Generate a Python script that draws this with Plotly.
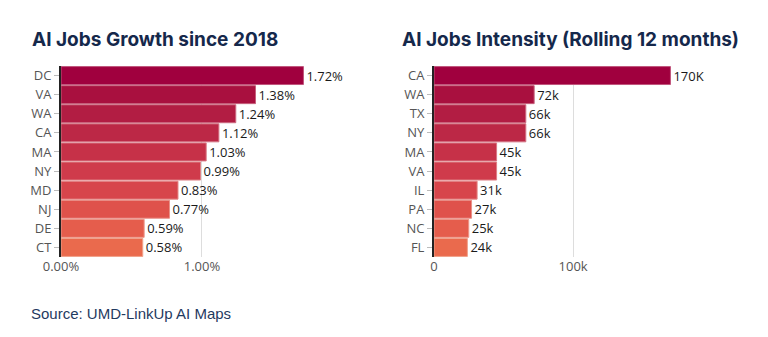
import plotly.graph_objects as go

# Growth panel data
growth_states = ["DC", "VA", "WA", "CA", "MA", "NY", "MD", "NJ", "DE", "CT"]
growth_pct = [1.72, 1.38, 1.24, 1.12, 1.03, 0.99, 0.83, 0.77, 0.59, 0.58]

# Intensity panel data
intensity_states = ["CA", "WA", "TX", "NY", "MA", "VA", "IL", "PA", "NC", "FL"]
intensity_jobs = [170000, 72000, 66000, 66000, 45000, 45000, 31000, 27000, 25000, 24000]
intensity_labels = ["170K", "72k", "66k", "66k", "45k", "45k", "31k", "27k", "25k", "24k"]

# Ten-step ramp from deep crimson to coral
bar_colors = ["#a0003e", "#a9103f", "#b21d43", "#bc2846", "#c63148",
              "#cf3b4b", "#d7454b", "#df524b", "#e55d4c", "#ea6a4d"]
line_colors = ["#c0567c", "#c6607c", "#cc6a80", "#d27282", "#d87884",
              "#de8086", "#e38887", "#e89188", "#ec9889", "#f0a28b"]

W, H = 768, 337
NAVY = "#15284b"
TICK = "#555555"

fig = go.Figure()

fig.add_trace(go.Bar(
    x=growth_pct, y=growth_states, orientation="h",
    marker=dict(color=bar_colors, line=dict(color=line_colors, width=1)),
    text=[f"{v:.2f}%" for v in growth_pct], textposition="outside",
    textfont=dict(family="Open Sans", size=13, color="#1a1a1a"),
    cliponaxis=False, xaxis="x", yaxis="y", showlegend=False,
    hoverinfo="skip",
))

fig.add_trace(go.Bar(
    x=intensity_jobs, y=intensity_states, orientation="h",
    marker=dict(color=bar_colors, line=dict(color=line_colors, width=1)),
    text=intensity_labels, textposition="outside",
    textfont=dict(family="Open Sans", size=13, color="#1a1a1a"),
    cliponaxis=False, xaxis="x2", yaxis="y2", showlegend=False,
    hoverinfo="skip",
))

y0, y1 = 1 - 257 / H, 1 - 66 / H

common_y = dict(
    autorange="reversed", showline=True, linecolor="#222222", linewidth=2,
    ticks="outside", ticklen=5, tickcolor="#bbbbbb", tickwidth=1,
    tickfont=dict(family="Open Sans", size=13, color=TICK),
    showgrid=False, automargin=False, domain=[y0, y1], fixedrange=True,
)
common_x = dict(
    showgrid=True, gridcolor="#dddddd", gridwidth=1, zeroline=False,
    showline=False, ticks="", automargin=False, fixedrange=True,
    tickfont=dict(family="Open Sans", size=13, color=TICK),
)

fig.update_layout(
    width=W, height=H,
    margin=dict(l=0, r=0, t=0, b=0),
    paper_bgcolor="white", plot_bgcolor="white",
    bargap=0.06,
    xaxis=dict(common_x, domain=[61 / W, 357 / W], range=[0, 2.1],
               tickvals=[0, 1], ticktext=["0.00%", "1.00%"], anchor="y"),
    yaxis=dict(common_y, anchor="x"),
    xaxis2=dict(common_x, domain=[434 / W, 740 / W], range=[0, 220000],
                tickvals=[0, 100000], ticktext=["0", "100k"], anchor="y2"),
    yaxis2=dict(common_y, anchor="x2"),
    annotations=[
        dict(text="<b>AI Jobs Growth since 2018</b>", x=30 / W, y=1 - 39 / H,
             xref="paper", yref="paper", xanchor="left", yanchor="middle",
             showarrow=False, font=dict(family="Inter", size=19, color=NAVY)),
        dict(text="<b>AI Jobs Intensity (Rolling 12 months)</b>", x=400 / W, y=1 - 39 / H,
             xref="paper", yref="paper", xanchor="left", yanchor="middle",
             showarrow=False, font=dict(family="Inter", size=19, color=NAVY)),
        dict(text="Source: UMD-LinkUp AI Maps", x=29 / W, y=1 - 313 / H,
             xref="paper", yref="paper", xanchor="left", yanchor="middle",
             showarrow=False, font=dict(family="Liberation Sans", size=15, color="#1f3a5f")),
    ],
)

fig.write_html("out.html")
